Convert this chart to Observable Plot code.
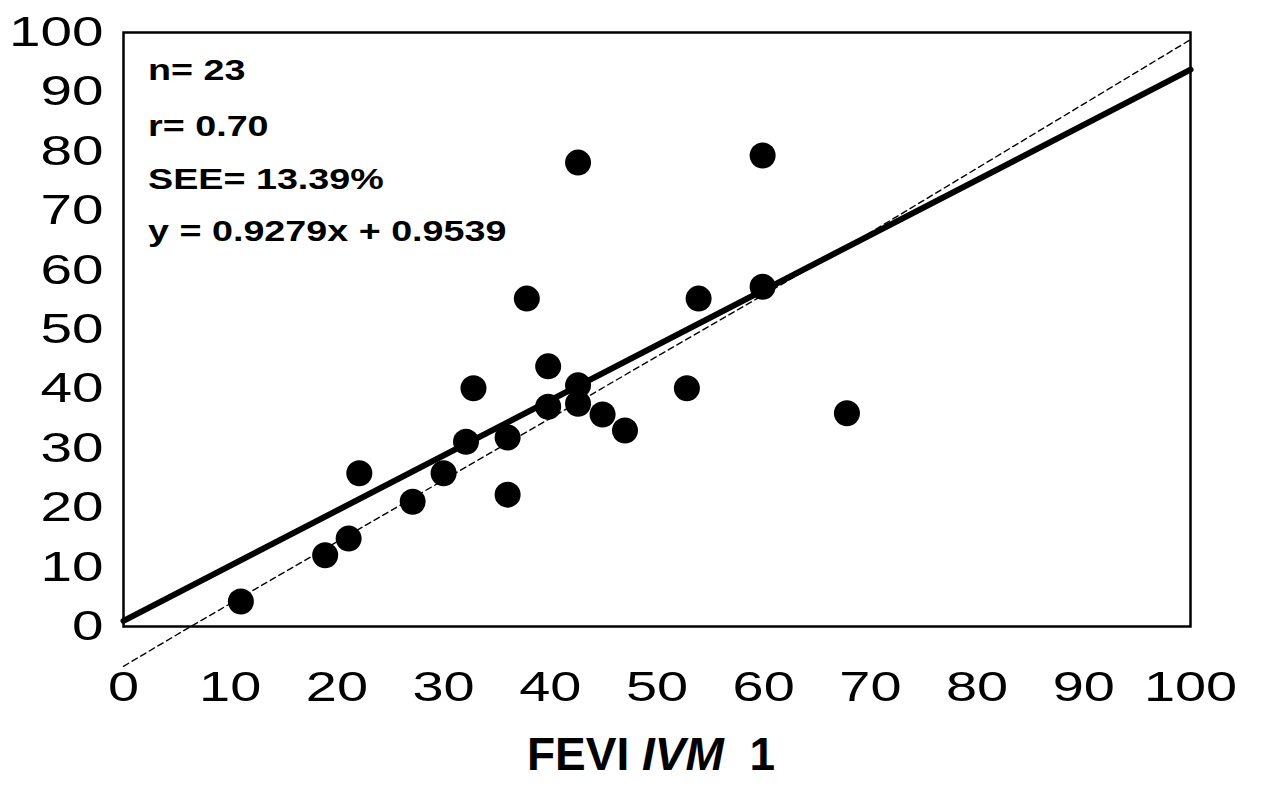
<!DOCTYPE html>
<html>
<head>
<meta charset="utf-8">
<script src="https://cdn.jsdelivr.net/npm/d3@7"></script>
<script src="https://cdn.jsdelivr.net/npm/@observablehq/plot@0.6"></script>
<style>
  html, body { margin: 0; padding: 0; background: #fff; }
  #chart { width: 1275px; height: 730px; }
  #xlabel { width: 1275px; font-family: "Liberation Sans", Arial, sans-serif; font-weight: bold; font-size: 46px; line-height: 48px; color: #000; }
  #xlabel span.in { display: inline-block; position: relative; left: 651px; transform: translateX(-50%); white-space: pre; }
</style>
</head>
<body>
<div id="chart"></div>
<div id="xlabel"><span class="in">FEVI <i>IVM</i>  1</span></div>
<script>
// Data (x = FEVI IVM 1, y = second method)
const xValues = [11.0, 18.9, 21.1, 22.1, 27.1, 30.0, 32.1, 32.8, 36.0, 36.0, 37.8, 39.8, 39.8, 42.6, 42.6, 42.6, 44.9, 47.0, 52.8, 53.9, 59.9, 59.9, 67.8];
const yValues = [4.2, 12.0, 14.8, 25.8, 21.0, 25.8, 31.1, 40.1, 31.8, 22.2, 55.2, 37.0, 43.8, 78.1, 40.6, 37.5, 35.7, 33.0, 40.1, 55.2, 79.3, 57.2, 35.9];
const tickValues = [0, 10, 20, 30, 40, 50, 60, 70, 80, 90, 100];
const regSlope = 0.9279;
const regIntercept = 0.9539;
const regX = [0, 100];
// dashed reference line
const refLineX = [0, 6.3, 68.4, 100];
const refLineY = [-6.7, 0, 64.6, 98.8];
const annotations = ["n= 23", "r= 0.70", "SEE= 13.39%", "y = 0.9279x + 0.9539"];
const annotationY = [93.5, 84.2, 75.3, 66.4];

const points = xValues.map((x, i) => ({x, y: yValues[i]}));
const regLine = regX.map(x => ({x, y: regSlope * x + regIntercept}));
const refLine = refLineX.map((x, i) => ({x, y: refLineY[i]}));
const notes = annotations.map((t, i) => ({t, y: annotationY[i]}));

const chart = Plot.plot({
  width: 1275,
  height: 730,
  marginLeft: 123,
  marginRight: 85,
  marginTop: 32,
  marginBottom: 104,
  style: {fontFamily: "'Liberation Sans', Arial, sans-serif", color: "#000", background: "#fff", overflow: "visible"},
  x: {domain: [0, 100], ticks: tickValues},
  y: {domain: [0, 100], ticks: tickValues},
  marks: [
    Plot.axisX({ticks: tickValues, tickSize: 0, tickPadding: 44, fontSize: 43, label: null}),
    Plot.axisY({ticks: tickValues, tickSize: 0, tickPadding: 20, fontSize: 42, label: null}),
    Plot.line(refLine, {x: "x", y: "y", stroke: "#000", strokeWidth: 1.4, strokeDasharray: "6,4"}),
    Plot.line(regLine, {x: "x", y: "y", stroke: "#000", strokeWidth: 6}),
    Plot.dot(points, {x: "x", y: "y", r: 13, fill: "#000", stroke: "none"}),
    Plot.text(notes, {x: () => 2.3, y: "y", text: "t", textAnchor: "start", fontSize: 29, fontWeight: "bold", fill: "#000"}),
    Plot.frame({stroke: "#000", strokeWidth: 2.5})
  ]
});
document.getElementById("chart").append(chart);

// The reference's lettering is drawn wide: stretch each text horizontally about its anchor
function stretch(selector, sx, anchor) {
  chart.querySelectorAll(selector).forEach(t => {
    const b = t.getBBox();
    const ax = anchor === "end" ? b.x + b.width : anchor === "start" ? b.x : b.x + b.width / 2;
    const ay = b.y + b.height / 2;
    const tr = t.getAttribute("transform") || "";
    t.setAttribute("transform", `${tr} translate(${ax},${ay}) scale(${sx},1) translate(${-ax},${-ay})`);
  });
}
stretch("g[aria-label='x-axis tick label'] text", 1.3, "middle");
stretch("g[aria-label='y-axis tick label'] text", 1.35, "end");
stretch("g[aria-label='text'] text", 1.3, "start");
</script>
</body>
</html>
